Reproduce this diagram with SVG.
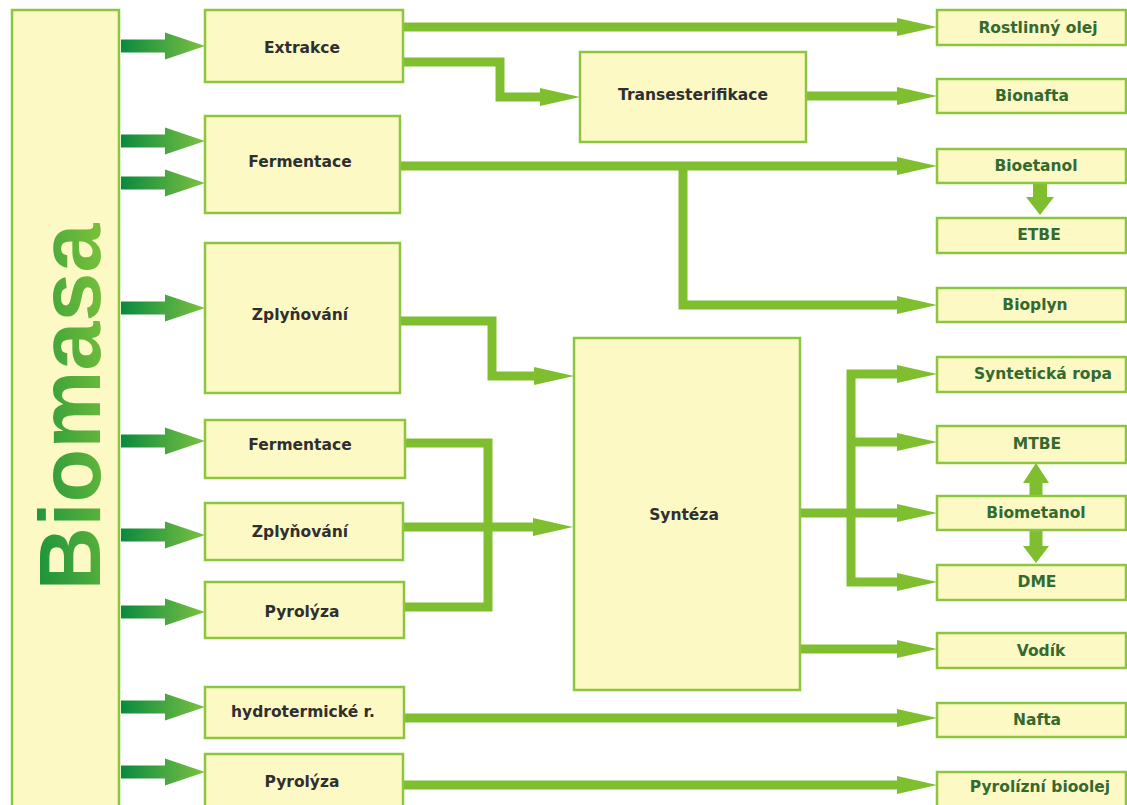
<svg xmlns="http://www.w3.org/2000/svg" width="1127" height="805" viewBox="0 0 1127 805">
<defs>
<style>
.box{fill:#fdf9c5;stroke:#8cc63f;stroke-width:2.5}
.lt{font-family:"DejaVu Sans","Liberation Sans",sans-serif;font-weight:bold;font-size:15.5px;fill:#2f2f2f;text-anchor:middle;dominant-baseline:central}
.rt{font-family:"DejaVu Sans","Liberation Sans",sans-serif;font-weight:bold;font-size:15.5px;fill:#336a30;text-anchor:middle;dominant-baseline:central}
.ln{fill:none;stroke:#7fbf2f;stroke-width:9;stroke-linejoin:miter;marker-end:url(#ah)}
.bl{fill:#7fbf2f}
</style>
<linearGradient id="ga" gradientUnits="userSpaceOnUse" x1="121" y1="0" x2="205" y2="0">
<stop offset="0" stop-color="#0a8a3e"/>
<stop offset="1" stop-color="#7cc142"/>
</linearGradient>
<linearGradient id="gt" x1="0" y1="0" x2="0.5" y2="1">
<stop offset="0" stop-color="#0b8a3c"/>
<stop offset="1" stop-color="#76bf3a"/>
</linearGradient>
<marker id="ah" markerUnits="userSpaceOnUse" viewBox="0 0 40 18" refX="10" refY="9" markerWidth="40" markerHeight="18" orient="auto-start-reverse">
<path d="M0,0 L40,9 L0,18 z" fill="#7fbf2f"/>
</marker>
<path id="garrow" d="M121,-6.5 H165 V-13.5 L205,0 L165,13.5 V6.5 H121 z" fill="url(#ga)"/>
</defs>
<rect width="1127" height="805" fill="#ffffff"/>

<g id="biomasa">
<rect class="box" x="12" y="10" width="107" height="810"/>
<text transform="translate(100,407) rotate(-90)" text-anchor="middle" font-family="'Liberation Sans',Arial,sans-serif" font-weight="bold" font-size="88" fill="url(#gt)">Biomasa</text>
</g>

<g id="input-arrows">
<use href="#garrow" y="46"/>
<use href="#garrow" y="141"/>
<use href="#garrow" y="183"/>
<use href="#garrow" y="308"/>
<use href="#garrow" y="441"/>
<use href="#garrow" y="535"/>
<use href="#garrow" y="612"/>
<use href="#garrow" y="707"/>
<use href="#garrow" y="772"/>
</g>

<g id="connectors">
<path class="ln" d="M403,27 H907"/>
<path class="ln" d="M403,62 H500 V97 H550"/>
<path class="ln" d="M806,96 H907"/>
<path class="ln" d="M400,166 H907"/>
<path class="ln" d="M683,166 V305 H907"/>
<path class="ln" d="M400,321 H492 V376 H544"/>
<path class="ln" style="marker-end:none" d="M405,443 H488 V607 H404"/>
<path class="ln" d="M403,527 H543"/>
<path class="ln" style="marker-start:url(#ah)" d="M907,374 H851 V582 H907"/>
<path class="ln" d="M851,442 H907"/>
<path class="ln" d="M800,513 H907"/>
<path class="ln" d="M800,649 H907"/>
<path class="ln" d="M404,718 H907"/>
<path class="ln" d="M403,785 H907"/>
<path class="bl" d="M1033,183 V197 H1026 L1040,215 L1054,197 H1047 V183 z"/>
<path class="bl" d="M1029.5,496 V483 H1023 L1036,463 L1049,483 H1042.5 V496 z"/>
<path class="bl" d="M1029.5,530 V546 H1023 L1036,563 L1049,546 H1042.5 V530 z"/>
</g>

<g id="extrakce"><rect class="box" x="205" y="10" width="198" height="72"/><text class="lt" x="302" y="48">Extrakce</text></g>
<g id="fermentace1"><rect class="box" x="205" y="116" width="195" height="97"/><text class="lt" x="300" y="162">Fermentace</text></g>
<g id="zplynovani1"><rect class="box" x="205" y="243" width="195" height="150"/><text class="lt" x="300" y="315">Zplyňování</text></g>
<g id="fermentace2"><rect class="box" x="205" y="420" width="200" height="58"/><text class="lt" x="300" y="445">Fermentace</text></g>
<g id="zplynovani2"><rect class="box" x="205" y="503" width="198" height="57"/><text class="lt" x="300" y="532">Zplyňování</text></g>
<g id="pyrolyza1"><rect class="box" x="205" y="582" width="199" height="56"/><text class="lt" x="302" y="612">Pyrolýza</text></g>
<g id="hydrotermicke"><rect class="box" x="205" y="687" width="199" height="51"/><text class="lt" x="303" y="712">hydrotermické r.</text></g>
<g id="pyrolyza2"><rect class="box" x="205" y="754" width="198" height="58"/><text class="lt" x="302" y="782">Pyrolýza</text></g>

<g id="transesterifikace"><rect class="box" x="580" y="52" width="226" height="90"/><text class="lt" x="693" y="95">Transesterifikace</text></g>
<g id="synteza"><rect class="box" x="574" y="338" width="226" height="352"/><text class="lt" x="684" y="515">Syntéza</text></g>

<g id="rostlinny-olej"><rect class="box" x="937" y="10" width="189" height="35"/><text class="rt" x="1038" y="28">Rostlinný olej</text></g>
<g id="bionafta"><rect class="box" x="937" y="79" width="189" height="34"/><text class="rt" x="1032" y="96">Bionafta</text></g>
<g id="bioetanol"><rect class="box" x="937" y="149" width="189" height="34"/><text class="rt" x="1036" y="166">Bioetanol</text></g>
<g id="etbe"><rect class="box" x="937" y="218" width="189" height="35"/><text class="rt" x="1039" y="235">ETBE</text></g>
<g id="bioplyn"><rect class="box" x="937" y="288" width="189" height="34"/><text class="rt" x="1035" y="305">Bioplyn</text></g>
<g id="synteticka-ropa"><rect class="box" x="937" y="357" width="189" height="35"/><text class="rt" x="1043" y="374">Syntetická ropa</text></g>
<g id="mtbe"><rect class="box" x="937" y="426" width="189" height="37"/><text class="rt" x="1037" y="444">MTBE</text></g>
<g id="biometanol"><rect class="box" x="937" y="496" width="189" height="34"/><text class="rt" x="1036" y="513">Biometanol</text></g>
<g id="dme"><rect class="box" x="937" y="565" width="189" height="35"/><text class="rt" x="1037" y="582">DME</text></g>
<g id="vodik"><rect class="box" x="937" y="633" width="189" height="35"/><text class="rt" x="1041" y="651">Vodík</text></g>
<g id="nafta"><rect class="box" x="937" y="703" width="189" height="34"/><text class="rt" x="1037" y="720">Nafta</text></g>
<g id="pyrolizni-bioolej"><rect class="box" x="937" y="772" width="189" height="40"/><text class="rt" x="1040" y="787">Pyrolízní bioolej</text></g>
</svg>
